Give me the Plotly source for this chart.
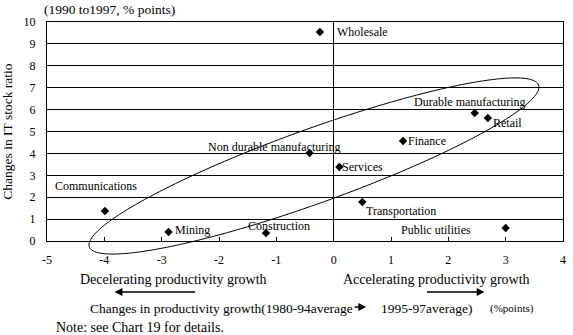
import numpy as np
import plotly.graph_objects as go

# ---- data ----
sectors = ["Wholesale", "Durable manufacturing", "Retail", "Finance",
           "Non durable manufacturing", "Services", "Transportation",
           "Construction", "Mining", "Communications", "Public utilities"]
prod_change = [-0.24, 2.46, 2.69, 1.21, -0.42, 0.10, 0.50, -1.18, -2.88, -3.99, 3.00]
it_change = [9.54, 5.84, 5.62, 4.57, 4.02, 3.38, 1.78, 0.37, 0.41, 1.37, 0.59]

x_ticks = [-5, -4, -3, -2, -1, 0, 1, 2, 3, 4]
x_tick_labels = ["-5", "-4", "-3", "-2", "-1", "0", "1", "2", "3", "4"]
y_ticks = list(range(0, 11))
y_tick_labels = [str(v) for v in y_ticks]

# label placement (pixel offsets from each point, anchor)
label_style = {
    "Wholesale": (15, 0, "left"),
    "Durable manufacturing": (-5, 11, "center"),
    "Retail": (3, -5, "left"),
    "Finance": (3, 0, "left"),
    "Non durable manufacturing": (-35, 6, "center"),
    "Services": (1, 0, "left"),
    "Transportation": (39, -9, "center"),
    "Construction": (13, 7, "center"),
    "Mining": (4, 2, "left"),
    "Communications": (-52, 25, "left"),
    "Public utilities": (-70, -2, "center"),
}

W, H = 573, 335
ML, MR, MT, MB = 47, 7, 22, 94
XR = [-5, 4]
YR = [0, 10]
PW, PH = W - ML - MR, H - MT - MB

FONT = "Liberation Serif"

fig = go.Figure()
fig.add_trace(go.Scatter(
    x=prod_change, y=it_change, mode="markers",
    marker=dict(symbol="diamond", size=6.5, color="black"),
    hoverinfo="text", text=sectors, showlegend=False,
))

ann = []
for name, xv, yv in zip(sectors, prod_change, it_change):
    dx, dy, anc = label_style[name]
    ann.append(dict(x=xv, y=yv, xref="x", yref="y", text=name, showarrow=False,
                    xanchor=anc, yanchor="middle", xshift=dx, yshift=dy,
                    font=dict(size=12, family=FONT, color="black")))


def px2paper(px, py):
    return (px - ML) / PW, (MT + PH - py) / PH


def txt(px, py, s, size=14, anchor="center"):
    xp, yp = px2paper(px, py)
    ann.append(dict(x=xp, y=yp, xref="paper", yref="paper", text=s, showarrow=False,
                    xanchor=anchor, yanchor="middle",
                    font=dict(size=size, family=FONT, color="black")))


def arrow(px_head, px_tail, py):
    xp, yp = px2paper(px_head, py)
    ann.append(dict(x=xp, y=yp, xref="paper", yref="paper", text="", showarrow=True,
                    ax=px_tail - px_head, ay=0, arrowhead=2, arrowsize=1.2,
                    arrowwidth=1.3, arrowcolor="black"))


txt(110, 9, "(1990 to1997, % points)", 13.5)
txt(174, 279, "Decelerating productivity growth", 14)
txt(439, 279, "Accelerating productivity growth", 14)
txt(88, 308, "Changes in productivity growth(1980-94average", 13.5, "left")
txt(429, 308, "1995-97average)", 13.5)
txt(515, 308, "(%points)", 11)
txt(54, 327, "Note: see Chart 19 for details.", 14, "left")
arrow(115, 197, 292)
arrow(487, 428, 292)
arrow(368, 355, 307)

# y-axis title
ann.append(dict(x=(7 - ML) / PW, y=0.5, xref="paper", yref="paper",
                text="Changes in IT stock ratio",
                textangle=-90, showarrow=False, xanchor="center", yanchor="middle",
                font=dict(size=13.5, family=FONT, color="black")))

# ellipse (pixel geometry around the cluster)
cx, cy = 315.5, 166.0
a, b, th = 240.0, 37.0, np.deg2rad(19.7)
t = np.linspace(0, 2 * np.pi, 200)
ex = cx + a * np.cos(t) * np.cos(th) - b * np.sin(t) * np.sin(th)
ey = cy - (a * np.cos(t) * np.sin(th) + b * np.sin(t) * np.cos(th))
pts = [px2paper(u, v) for u, v in zip(ex, ey)]
path = "M " + " L ".join(f"{u:.5f},{v:.5f}" for u, v in pts) + " Z"

fig.update_layout(
    width=W, height=H, margin=dict(l=ML, r=MR, t=MT, b=MB),
    paper_bgcolor="white", plot_bgcolor="white",
    font=dict(family=FONT, size=12, color="black"),
    annotations=ann,
    shapes=[dict(type="path", path=path, xref="paper", yref="paper",
                 line=dict(color="black", width=1))],
    xaxis=dict(range=XR, tickvals=x_ticks, ticktext=x_tick_labels, showgrid=False,
               zeroline=True, zerolinecolor="black", zerolinewidth=1,
               showline=True, mirror=True, linecolor="black", linewidth=1,
               ticks="inside", ticklen=4, tickcolor="black", ticklabelstandoff=8,
               tickfont=dict(size=12, family=FONT)),
    yaxis=dict(range=YR, tickvals=y_ticks, ticktext=y_tick_labels, showgrid=True,
               gridcolor="black", gridwidth=1, zeroline=False,
               showline=True, mirror=True, linecolor="black", linewidth=1,
               ticks="", ticklabelstandoff=8, tickfont=dict(size=12, family=FONT)),
)

fig.write_html("out.html")
